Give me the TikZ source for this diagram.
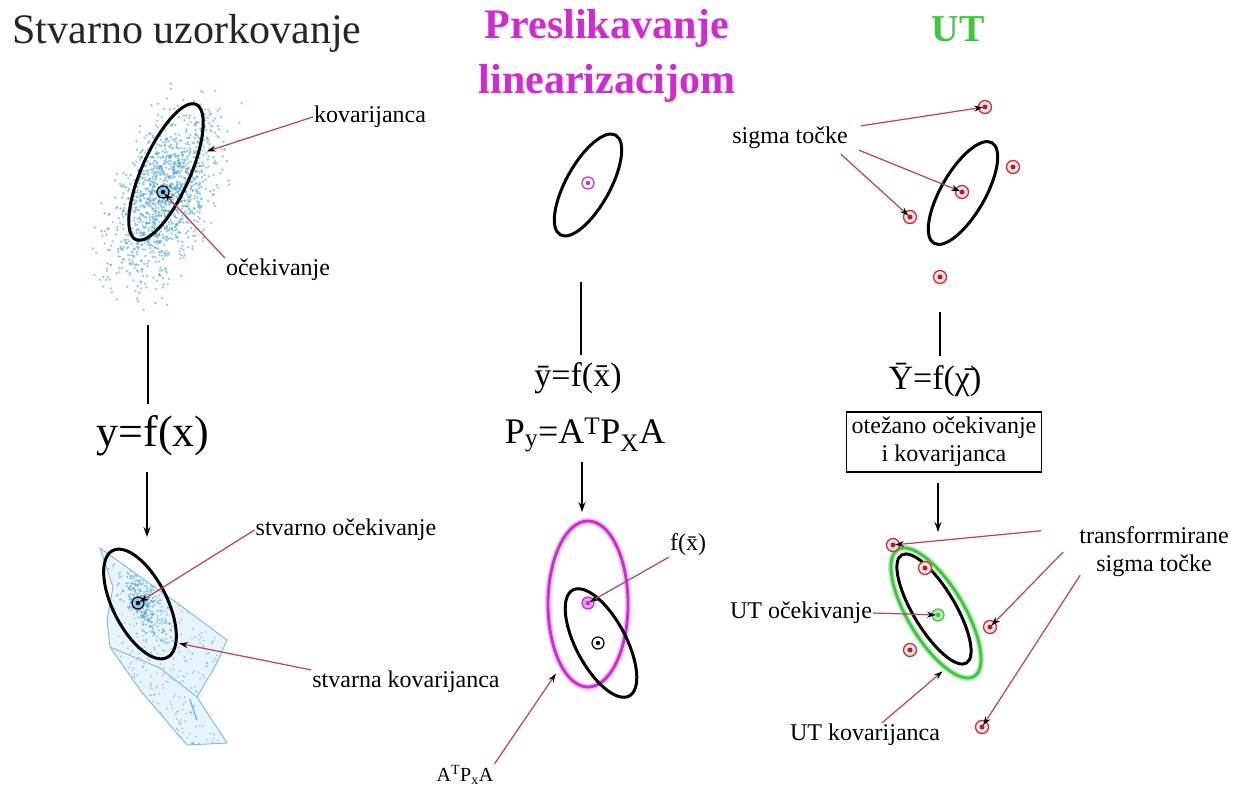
\documentclass[tikz,border=0pt]{standalone}
\usepackage{fontspec}
\setmainfont{Liberation Serif}
\usetikzlibrary{arrows.meta}

\definecolor{sampleblue}{RGB}{60,160,220}
\definecolor{linmag}{RGB}{212,40,212}
\definecolor{utgreen}{RGB}{60,200,60}
\definecolor{ptred}{RGB}{222,40,50}
\definecolor{arrowred}{RGB}{200,60,85}

\tikzset{
  lbl/.style={font=\fontsize{24}{28}\selectfont, inner sep=1pt},
  pointer/.style={draw=arrowred, line width=1.2pt, shorten >=2pt,
    -{Stealth[length=9pt,width=6pt,color=black]}},
  flow/.style={draw=black, line width=1.3pt},
  covline/.style={draw=black, line width=3pt},
  meanpt/.style={circle, draw=#1, fill=#1!15, line width=1.2pt, minimum size=12pt,
    inner sep=0pt, path picture={\fill[#1] (path picture bounding box.center) circle (2.2pt);}},
  sigmapt/.style={circle, draw=ptred, fill=ptred!12, line width=1.3pt, minimum size=13pt,
    inner sep=0pt, path picture={\fill[ptred!80!black] (path picture bounding box.center) circle (2.5pt);}}
}

\begin{document}
\begin{tikzpicture}[x=1pt, y=-1pt]
\useasboundingbox (0,0) rectangle (1237,789);
\fill[white] (0,0) rectangle (1237,789);

% titles of the three columns
\node[font=\fontsize{42}{46}\selectfont, text=black!85] (tStvarno) at (187,33) {Stvarno uzorkovanje};
\node[font=\fontsize{42}{55}\selectfont\bfseries, text=linmag, align=center] (tLin) at (607,56) {Preslikavanje\\linearizacijom};
\node[font=\fontsize{38}{42}\selectfont\bfseries, text=utgreen] (tUT) at (958,29) {UT};

% left column: sampled cloud before f
\pgfmathsetseed{11}
\foreach \i in {1,...,1300}{
  \pgfmathsetmacro\u{rand+rand+rand}
  \pgfmathsetmacro\v{rand+rand+rand}
  \fill[sampleblue, opacity=0.55] ({164+0.407*44*\u+0.914*21*\v},{198-0.914*44*\u+0.407*21*\v}) circle (1.3);
}
\draw[covline, rotate around={66:(166,172)}] (166,172) ellipse [x radius=74, y radius=24];
\node[meanpt=black, fill=sampleblue!60] (meanA) at (163,192) {};
\coordinate (covA) at (205,152);
\node[lbl] (kovA) at (370,117) {kovarijanca};
\node[lbl] (ocA) at (278,270) {očekivanje};
\draw[pointer] (kovA.west) -- (covA);
\draw[pointer] (ocA.north west) -- (meanA.center);

\coordinate (lnA) at (148,325);
\node[font=\fontsize{44}{48}\selectfont] (yfx) at (153,436) {y=f(x)};
\coordinate (tipA) at (147,537);
\draw[flow, shorten >=8pt] (lnA) -- (lnA |- yfx.north);
\draw[flow, shorten <=12pt, -{Stealth[length=10pt,width=7pt]}] (yfx.south -| tipA) -- (tipA);

% left column: samples after f
\begin{scope}
  \clip (100,548) -- (177,603) -- (227,640) -- (217,663) -- (197,697) -- (227,743) -- (187,745)
    -- (140,690) -- (110,647) -- (107,620) -- (113,587) -- cycle;
  \fill[sampleblue!12] (90,540) rectangle (235,750);
  \foreach \i in {1,...,600}{
    \pgfmathsetmacro\u{rnd}
    \pgfmathsetmacro\v{rnd}
    \fill[sampleblue, opacity=0.5] ({95+135*\u},{545+205*\v}) circle (1);
  }
  \foreach \i in {1,...,250}{
    \pgfmathsetmacro\u{rand+rand}
    \pgfmathsetmacro\v{rand+rand}
    \fill[sampleblue, opacity=0.6] ({142+0.45*28*\u+0.89*10*\v},{603+0.89*28*\u-0.45*10*\v}) circle (1.1);
  }
\end{scope}
\draw[sampleblue!70, line width=0.9pt] (100,548) -- (177,603) -- (227,640) -- (217,663) -- (197,697)
  -- (227,743) -- (187,745) -- (140,690) -- (110,647) -- (107,620) -- (113,587) -- cycle;
\draw[sampleblue!70, line width=0.9pt] (110,647) -- (160,668) -- (197,697);
\draw[sampleblue!80, line width=1.2pt] (190,700) -- (197,720);
\draw[covline, rotate around={-63:(140,604)}] (140,604) ellipse [x radius=60, y radius=27];
\node[meanpt=black, fill=sampleblue!60] (meanB) at (138,603) {};
\coordinate (covB) at (177,643);
\node[lbl] (socB) at (346,530) {stvarno očekivanje};
\node[lbl] (skovB) at (406,682) {stvarna kovarijanca};
\draw[pointer] (socB.west) -- (meanB.center);
\draw[pointer] (skovB.north west) -- (covB);

% middle column: linearisation
\draw[covline, rotate around={61:(588,185)}] (588,185) ellipse [x radius=57, y radius=22];
\node[meanpt=linmag, fill=white] (meanC) at (588,183) {};

\coordinate (lnC) at (581,282);
\node[font=\fontsize{34}{38}\selectfont] (ybar) at (578,378) {ȳ=f(\={x})};
\node[font=\fontsize{36}{40}\selectfont] (pyeq) at (585,435) {P\textsubscript{y}=A\textsuperscript{T}P\textsubscript{X}A};
\coordinate (tipC) at (582,512);
\draw[flow, shorten >=4pt] (lnC) -- (lnC |- ybar.north);
\draw[flow, shorten <=6pt, -{Stealth[length=10pt,width=7pt]}] (pyeq.south -| tipC) -- (tipC);

\draw[linmag!30, line width=6pt] (588,604) ellipse [x radius=40, y radius=83];
\draw[linmag, line width=2.8pt] (588,604) ellipse [x radius=40, y radius=83];
\draw[covline, rotate around={-62:(601,643)}] (601,643) ellipse [x radius=60, y radius=25];
\node[meanpt=linmag, fill=linmag!45] (meanD) at (588,603) {};
\node[meanpt=black, fill=white] (meanE) at (598,643) {};
\coordinate (covD) at (557,672);
\node[lbl] (fx) at (688,545) {f(\={x})};
\node[lbl, font=\fontsize{20}{24}\selectfont] (atpa) at (465,775) {A\textsuperscript{T}P\textsubscript{x}A};
\draw[pointer] (fx.south west) -- (meanD.center);
\draw[pointer] (atpa.north east) -- (covD);

% right column: unscented transform
\draw[covline, rotate around={60:(963,193)}] (963,193) ellipse [x radius=58, y radius=22];
\node[sigmapt] (s1) at (985,107) {};
\node[sigmapt] (s2) at (1013,167) {};
\node[sigmapt] (s3) at (962,192) {};
\node[sigmapt] (s4) at (910,217) {};
\node[sigmapt] (s5) at (940,277) {};
\node[lbl] (sig) at (790,138) {sigma točke};
\draw[pointer] ([xshift=12pt]sig.north east) -- (s1.center);
\draw[pointer] ([xshift=10pt]sig.south east) -- (s3.center);
\draw[pointer] ([xshift=-8pt, yshift=-4pt]sig.south east) -- (s4.center);

\coordinate (lnF) at (940,312);
\node[font=\fontsize{34}{38}\selectfont] (ups) at (935,380) {Ȳ=f(\={χ})};
\node[lbl, draw, line width=1.3pt, align=center, inner sep=5pt] (box) at (944,442) {otežano očekivanje\\i kovarijanca};
\coordinate (tipF) at (938,532);
\draw[flow, shorten >=4pt] (lnF) -- (lnF |- ups.north);
\draw[flow, shorten <=10pt, -{Stealth[length=10pt,width=7pt]}] (box.south -| tipF) -- (tipF);

\draw[covline, rotate around={-59:(934,609)}] (934,609) ellipse [x radius=63, y radius=21];
\draw[utgreen!35, line width=6pt, rotate around={-59:(936,613)}] (936,613) ellipse [x radius=74, y radius=28];
\draw[utgreen, line width=2.8pt, rotate around={-59:(936,613)}] (936,613) ellipse [x radius=74, y radius=28];
\node[meanpt=utgreen, fill=utgreen!40] (meanG) at (938,615) {};
\node[sigmapt] (t1) at (893,545) {};
\node[sigmapt] (t2) at (925,568) {};
\node[sigmapt] (t3) at (990,627) {};
\node[sigmapt] (t4) at (910,650) {};
\node[sigmapt] (t5) at (982,727) {};
\coordinate (covG) at (944,670);
\node[lbl, align=center] (trans) at (1154,552) {transforrmirane\\sigma točke};
\node[lbl] (utoc) at (801,613) {UT očekivanje};
\node[lbl] (utkov) at (865,735) {UT kovarijanca};
\draw[pointer] ([xshift=-37pt, yshift=-5pt]trans.north west) -- (t1.center);
\draw[pointer] ([xshift=-15pt]trans.west) -- (t3.center);
\draw[pointer] ([xshift=2pt, yshift=3pt]trans.south west) -- (t5.center);
\draw[pointer] (utoc.east) -- (meanG.center);
\draw[pointer] ([xshift=17pt]utkov.north) -- (covG);
\end{tikzpicture}
\end{document}
